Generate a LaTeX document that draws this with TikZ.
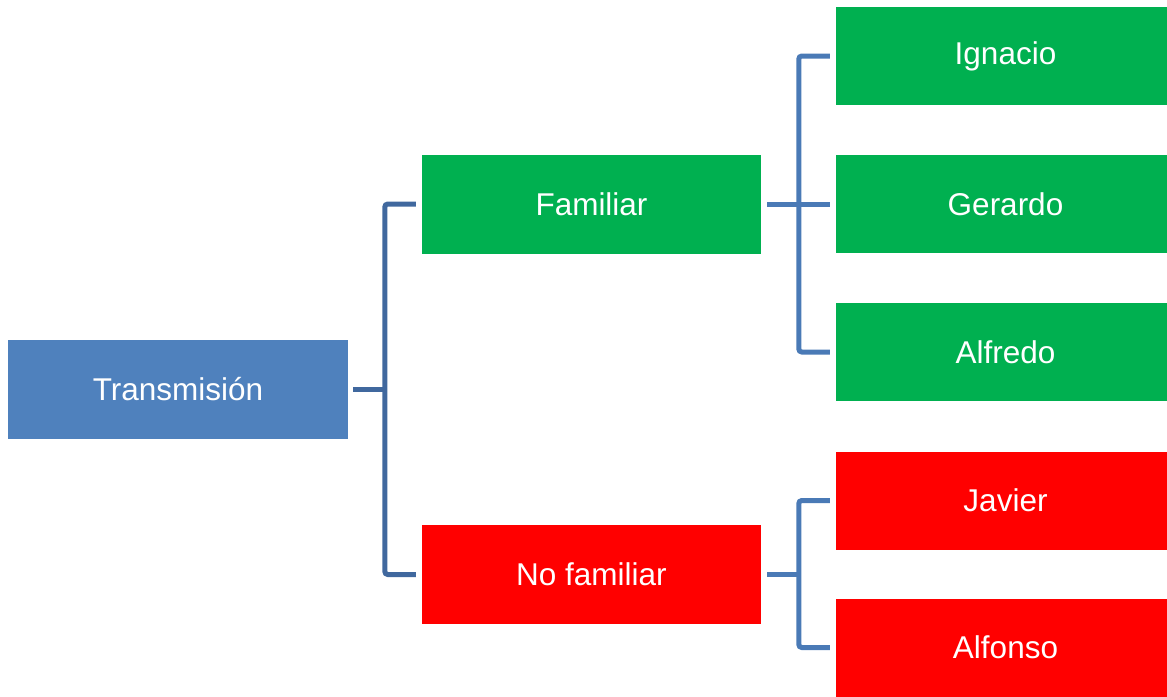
\documentclass[tikz,border=0pt]{standalone}
\usepackage{fontspec}
\setmainfont{Liberation Sans}
\definecolor{rootblue}{RGB}{79,129,189}
\definecolor{okgreen}{RGB}{0,176,80}
\definecolor{nored}{RGB}{255,0,0}
\definecolor{linkA}{RGB}{64,104,158}
\definecolor{linkB}{RGB}{74,122,182}
\tikzset{
  box/.style={rectangle, inner sep=0pt, text=white,
    font=\fontsize{31.5}{36}\selectfont},
  rootbox/.style={box, fill=rootblue, minimum width=340pt, minimum height=99pt},
  midbox/.style={box, minimum width=339pt, minimum height=99pt},
  leafbox/.style={box, minimum width=339pt, minimum height=98pt},
  link/.style={line width=5pt, rounded corners=3pt}
}
\begin{document}
\begin{tikzpicture}[x=1pt, y=-1pt]
  \useasboundingbox (0,0) rectangle (1167,696);
  % root
  \node[rootbox] (T) at (178,389.5) {Transmisión};
  % second level
  \node[midbox, fill=okgreen] (F) at (591.5,204) {Familiar};
  \node[midbox, fill=nored] (N) at (591.5,574.5) {No familiar};
  % leaves (the last column runs past the right edge of the page)
  \node[leafbox, fill=okgreen] (I) at (1005.5,56) {Ignacio};
  \node[leafbox, fill=okgreen] (G) at (1005.5,204) {Gerardo};
  \node[leafbox, fill=okgreen] (A) at (1005.5,352) {Alfredo};
  \node[leafbox, fill=nored] (J) at (1005.5,500.5) {Javier};
  \node[leafbox, fill=nored] (L) at (1005.5,647.5) {Alfonso};
  % brackets from the root
  \draw[link, linkA] ([xshift=-6pt]F.west) -| ([xshift=-37pt]F.west |- N.west) -- ([xshift=-6pt]N.west);
  \draw[link, linkA] ([xshift=5pt]T.east) -- ([xshift=-37pt]F.west |- T.east);
  % brackets from Familiar
  \draw[link, linkB] ([xshift=-6pt]I.west) -| ([xshift=-37pt]I.west |- A.west) -- ([xshift=-6pt]A.west);
  \draw[link, linkB] ([xshift=6pt]F.east) -- ([xshift=-6pt]G.west);
  % brackets from No familiar
  \draw[link, linkB] ([xshift=-6pt]J.west) -| ([xshift=-37pt]J.west |- L.west) -- ([xshift=-6pt]L.west);
  \draw[link, linkB] ([xshift=6pt]N.east) -- ([xshift=-37pt]J.west |- N.east);
\end{tikzpicture}
\end{document}
